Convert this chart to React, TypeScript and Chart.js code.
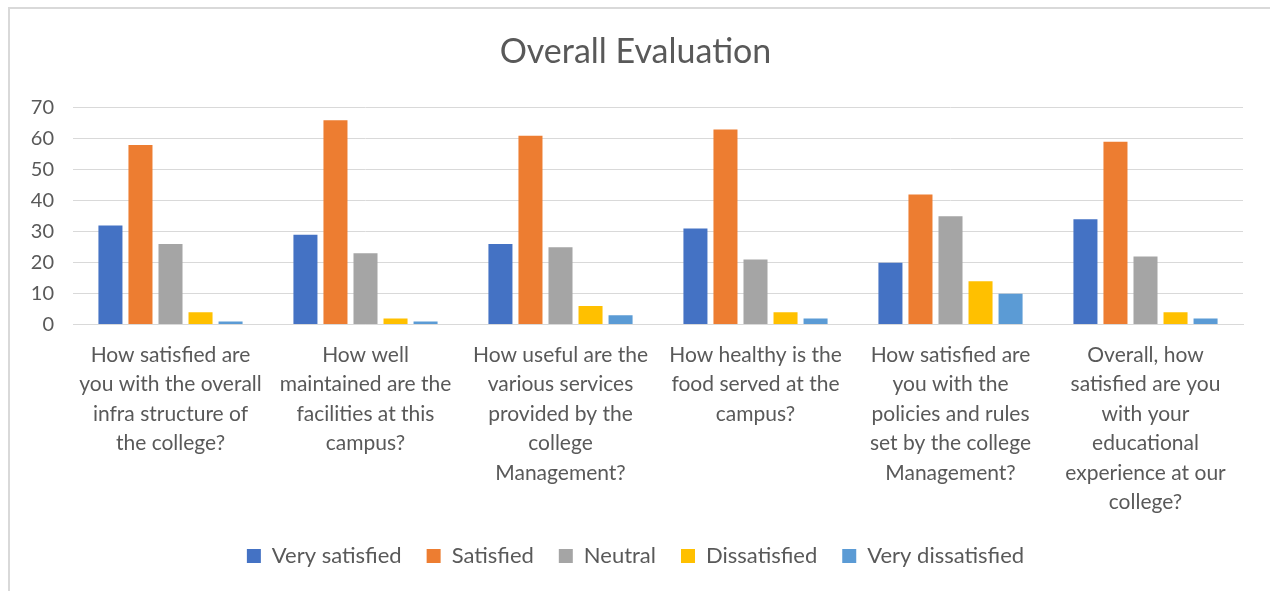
import React, { useEffect, useRef } from "react";
import { Chart, registerables } from "chart.js";

Chart.register(...registerables);

const categories: string[][] = [
  ["How satisfied are", "you with the overall", "infra structure of", "the college?"],
  ["How well", "maintained are the", "facilities at this", "campus?"],
  ["How useful are the", "various services", "provided by the", "college", "Management?"],
  ["How healthy is the", "food served at the", "campus?"],
  ["How satisfied are", "you with the", "policies and rules", "set by the college", "Management?"],
  ["Overall, how", "satisfied are you", "with your", "educational", "experience at our", "college?"],
];

const seriesNames = ["Very satisfied", "Satisfied", "Neutral", "Dissatisfied", "Very dissatisfied"];
const verySatisfied = [32, 29, 26, 31, 20, 34];
const satisfied = [58, 66, 61, 63, 42, 59];
const neutral = [26, 23, 25, 21, 35, 22];
const dissatisfied = [4, 2, 6, 4, 14, 4];
const veryDissatisfied = [1, 1, 3, 2, 10, 2];
const colors = ["#4472C4", "#ED7D31", "#A5A5A5", "#FFC000", "#5B9BD5"];

const FONT = "Lato, 'Open Sans', sans-serif";

export default function App() {
  const ref = useRef<HTMLCanvasElement | null>(null);
  useEffect(() => {
    if (!ref.current) return;
    const values = [verySatisfied, satisfied, neutral, dissatisfied, veryDissatisfied];
    const chart = new Chart(ref.current, {
      type: "bar",
      data: {
        labels: categories,
        datasets: seriesNames.map((n, i) => ({
          label: n,
          data: values[i],
          backgroundColor: colors[i],
          borderWidth: 0,
          barPercentage: 0.8,
          categoryPercentage: 0.77,
        })),
      },
      options: {
        animation: false,
        responsive: true,
        maintainAspectRatio: false,
        layout: { padding: { left: 18, right: 27, top: 0, bottom: 14 } },
        plugins: {
          title: {
            display: true,
            text: "Overall Evaluation",
            color: "#595959",
            font: { family: FONT, size: 34, weight: "normal" },
            padding: { top: 23, bottom: 35 },
          },
          legend: {
            position: "bottom",
            labels: {
              color: "#595959",
              font: { family: FONT, size: 22 },
              boxWidth: 14,
              boxHeight: 14,
              padding: 25,
            },
          },
          tooltip: { enabled: false },
        },
        scales: {
          x: {
            grid: { display: false, drawTicks: false },
            border: { display: true, color: "#d9d9d9" },
            ticks: {
              color: "#595959",
              font: { family: FONT, size: 21, lineHeight: 1.4 },
              padding: 16,
              maxRotation: 0,
              minRotation: 0,
              autoSkip: false,
            },
            afterFit: (scale: any) => {
              scale.height -= 13;
              scale.paddingLeft = 0;
              scale.paddingRight = 0;
            },
          },
          y: {
            min: 0,
            max: 70,
            grid: { color: "#d9d9d9", lineWidth: 1, drawTicks: false },
            border: { display: false },
            ticks: {
              stepSize: 10,
              color: "#595959",
              font: { family: FONT, size: 20 },
              padding: 19,
            },
            afterFit: (scale: any) => {
              scale.width = 45;
            },
          },
        },
      },
    });
    return () => chart.destroy();
  }, []);
  return (
    <div
      style={{
        position: "fixed",
        left: 8,
        top: 7,
        width: 1262,
        height: 584,
        borderTop: "2px solid #d9d9d9",
        borderLeft: "2px solid #d9d9d9",
        boxSizing: "border-box",
      }}
    >
      <div style={{ position: "relative", width: "100%", height: "100%" }}>
        <canvas ref={ref} />
      </div>
    </div>
  );
}
